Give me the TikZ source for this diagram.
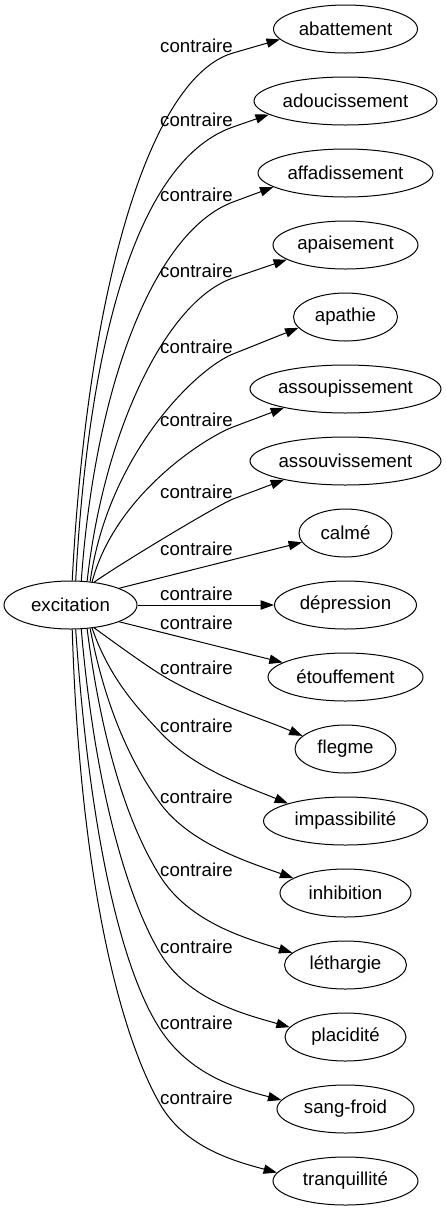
\documentclass[tikz,border=0pt]{standalone}
\usepackage{fontspec}
\setmainfont{Liberation Sans}
\usetikzlibrary{shapes.geometric,arrows.meta,calc}
\begin{document}
\begin{tikzpicture}[x=0.75pt,y=-0.75pt,
  tgt/.style={ellipse, draw, line width=0.75pt, inner sep=0pt, minimum height=36pt, font=\fontsize{14pt}{16pt}\selectfont},
  lbl/.style={inner sep=0pt, font=\fontsize{14pt}{16pt}\selectfont},
  edge/.style={draw, line width=0.75pt, -{Triangle[length=10pt,width=7pt]}}]
\useasboundingbox (0,0) rectangle (446,1211);
% nodes
\node[tgt, minimum width=99.75pt] (exc) at (70.5,605) {excitation};
\node[tgt, minimum width=108pt] (abattement) at (345.5,29) {abattement};
\node[tgt, minimum width=137.25pt] (adoucissement) at (345.5,101) {adoucissement};
\node[tgt, minimum width=131.25pt] (affadissement) at (345.5,173) {affadissement};
\node[tgt, minimum width=108.75pt] (apaisement) at (345.5,245) {apaisement};
\node[tgt, minimum width=78pt] (apathie) at (345.5,317) {apathie};
\node[tgt, minimum width=143.25pt] (assoupissement) at (345.5,389) {assoupissement};
\node[tgt, minimum width=143.25pt] (assouvissement) at (345.5,461) {assouvissement};
\node[tgt, minimum width=69.75pt] (calme) at (345.5,533) {calmé};
\node[tgt, minimum width=106.5pt] (depression) at (345.5,605) {dépression};
\node[tgt, minimum width=116.25pt] (etouffement) at (345.5,677) {étouffement};
\node[tgt, minimum width=75.75pt] (flegme) at (345.5,749) {flegme};
\node[tgt, minimum width=123pt] (impassibilite) at (345.5,821) {impassibilité};
\node[tgt, minimum width=98.25pt] (inhibition) at (345.5,893) {inhibition};
\node[tgt, minimum width=91.5pt] (lethargie) at (345.5,965) {léthargie};
\node[tgt, minimum width=90.75pt] (placidite) at (345.5,1037) {placidité};
\node[tgt, minimum width=102.75pt] (sangfroid) at (345.5,1109) {sang-froid};
\node[tgt, minimum width=108.75pt] (tranquillite) at (345.5,1181) {tranquillité};
% labels
\node[lbl] (l0) at (196.5,46) {contraire};
\node[lbl] (l1) at (196.5,120) {contraire};
\node[lbl] (l2) at (196.5,195) {contraire};
\node[lbl] (l3) at (196.5,271) {contraire};
\node[lbl] (l4) at (196.5,347) {contraire};
\node[lbl] (l5) at (196.5,420) {contraire};
\node[lbl] (l6) at (196.5,492) {contraire};
\node[lbl] (l7) at (196.5,549) {contraire};
\node[lbl] (l8) at (196.5,594) {contraire};
\node[lbl] (l9) at (196.5,623) {contraire};
\node[lbl] (l10) at (196.5,668) {contraire};
\node[lbl] (l11) at (196.5,726) {contraire};
\node[lbl] (l12) at (196.5,797) {contraire};
\node[lbl] (l13) at (196.5,870) {contraire};
\node[lbl] (l14) at (196.5,947) {contraire};
\node[lbl] (l15) at (196.5,1023) {contraire};
\node[lbl] (l16) at (196.5,1098) {contraire};
% bend points of the upper edges
\coordinate (m0) at (233,53);
\coordinate (m1) at (233,127);
\coordinate (m2) at (233,202);
\coordinate (m3) at (233,278);
\coordinate (m4) at (233,354);
\coordinate (m5) at (233,427);
\coordinate (m6) at (233,499);
% upper edges
\draw[edge] (exc.86) .. controls (88,281) and ($(m0)!-63.75pt!(abattement.189)$) .. (m0) -- (abattement.189);
\draw[edge] (exc.78) .. controls (90,320) and ($(m1)!-71.25pt!(adoucissement.190)$) .. (m1) -- (adoucissement.190);
\draw[edge] (exc.66) .. controls (96,375) and ($(m2)!-60pt!(affadissement.191)$) .. (m2) -- (affadissement.191);
\draw[edge] (exc.55) .. controls (104,430) and ($(m3)!-52.5pt!(apaisement.194)$) .. (m3) -- (apaisement.194);
\draw[edge] (exc.50) .. controls (108,455) and ($(m4)!-30pt!(apathie.193)$) .. (m4) -- (apathie.193);
\draw[edge] (exc.47) .. controls (115,495) and ($(m5)!-22.5pt!(assoupissement.197)$) .. (m5) -- (assoupissement.197);
\draw[edge] (exc.44) .. controls (126,560) and ($(m6)!-10.5pt!(assouvissement.197)$) .. (m6) -- (assouvissement.197);
\draw[edge] (exc.19) -- (calme.192);
\draw[edge] (exc) -- (depression);
% lower edges
\draw[edge] (exc.341) -- (etouffement.167);
\draw[edge] (exc.316) .. controls (115,643) and (143,663.4) .. (160,674) .. controls (202.4,700.5) and (257,716.5) .. (flegme.163);
\draw[edge] (exc.313) .. controls (110,680) and (139.5,710) .. (160,732) .. controls (194.1,768.6) and (244.3,785.7) .. (impassibilite.163);
\draw[edge] (exc.310) .. controls (108,722) and (139.4,774.7) .. (160,803) .. controls (189.4,843.5) and (248.2,862.1) .. (inhibition.164.5);
\draw[edge] (exc.305) .. controls (104,760) and (133.5,833.6) .. (160,876) .. controls (189.2,922.6) and (246.5,938.6) .. (lethargie.167.7);
\draw[edge] (exc.294) .. controls (96,801) and (131.7,905.9) .. (160,953) .. controls (188.3,1000.1) and (244.1,1014.1) .. (placidite.170);
\draw[edge] (exc.282) .. controls (90,841) and (122.9,972) .. (160,1029) .. controls (190,1075.1) and (237.3,1088.6) .. (sangfroid.172);
\draw[edge] (exc.274) .. controls (80,879) and (120,1034.7) .. (160,1104) .. controls (185,1147.3) and (233.5,1161) .. (tranquillite.173);
\end{tikzpicture}
\end{document}
